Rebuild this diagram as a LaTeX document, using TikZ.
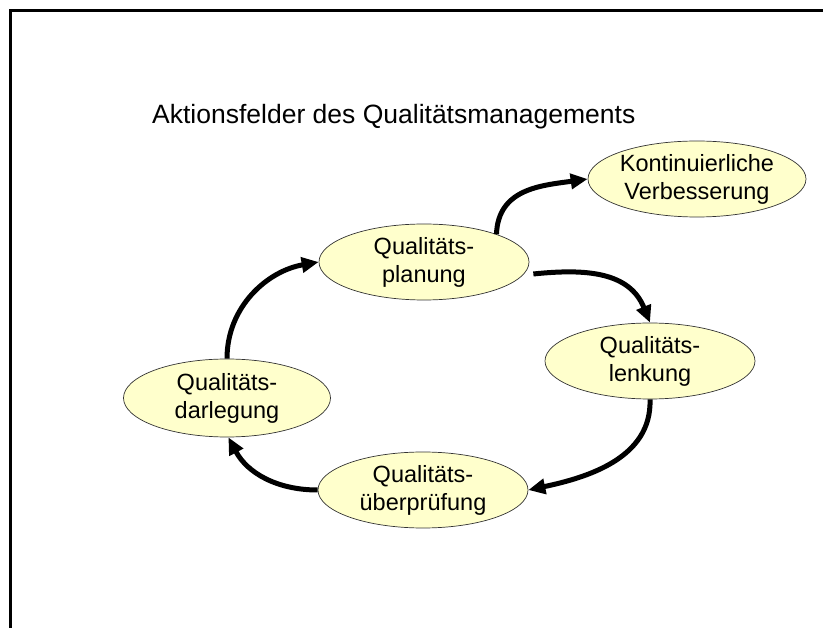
\documentclass[tikz,border=0pt]{standalone}
\usepackage{fontspec}
\setmainfont{Liberation Sans}
\usetikzlibrary{shapes.geometric,arrows.meta}
\definecolor{ellfill}{HTML}{FFFFCC}
\tikzset{
  field/.style={ellipse, draw=black!80, line width=0.7pt, fill=ellfill,
    minimum width=210pt, minimum height=76pt, inner sep=0pt, align=center,
    font=\fontsize{23.5}{28}\selectfont},
  cyc/.style={line width=5pt, -{Triangle[length=17pt,width=15pt]}}
}
\begin{document}
\begin{tikzpicture}[x=1pt,y=-1pt]
\path[use as bounding box, fill=white] (0,0) rectangle (823,628);
\draw[line width=3pt] (10.5,628) coordinate (fb) -- (10.5,10.5) coordinate (fc) -- (823,10.5) coordinate (fr);
\node[anchor=base west, inner sep=0pt, font=\fontsize{26.5}{31}\selectfont] (title) at (152,124) {Aktionsfelder des Qualitätsmanagements};
\node[field] (plan) at (424,262) {Qualitäts-\\planung};
\node[field] (kont) at (697,179) {Kontinuierliche\\Verbesserung};
\node[field] (lenk) at (650,361) {Qualitäts-\\lenkung};
\node[field] (pruef) at (423,490) {Qualitäts-\\überprüfung};
\node[field, minimum width=207pt, minimum height=78pt] (darl) at (227,398) {Qualitäts-\\darlegung};
\draw[cyc] (plan.21.5) to[out=88,in=188, looseness=1.1] (kont.west);
\draw[cyc] ([yshift=-12pt]plan.east) ++(4,0) to[out=6,in=112, looseness=1.1] (lenk.north);
\draw[cyc] (lenk.south) to[out=-88,in=12] (pruef.east);
\draw[cyc] (pruef.west) to[out=180,in=-62] (darl.-88);
\draw[cyc] (darl.north) to[out=90,in=190] (plan.west);
\end{tikzpicture}
\end{document}
